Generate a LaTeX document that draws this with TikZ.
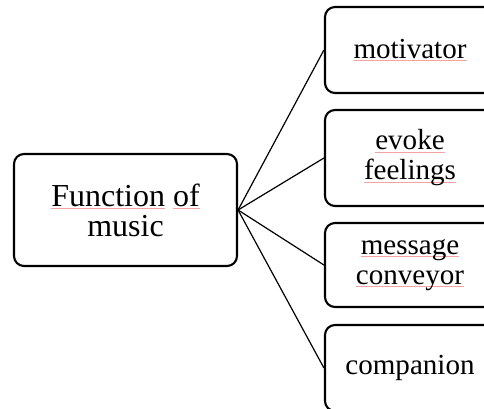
\documentclass[tikz,border=0pt]{standalone}
\usepackage{fontspec}
\setmainfont{Liberation Serif}
\definecolor{spellred}{HTML}{F2A3A3}
% word with a spell-check underline
\newcommand\spellmark[1]{\setbox0\hbox{#1}\rlap{\textcolor{spellred}{\rule[-2pt]{\wd0}{0.6pt}}}\box0\relax}
\tikzset{
  box/.style={draw=black, line width=1.6pt, rounded corners=7.5pt, align=center, inner sep=0pt},
  mainbox/.style={box, minimum width=167.25pt, minimum height=84pt, font=\fontsize{24}{22.5}\selectfont},
  leafbox/.style={box, minimum width=127.5pt, font=\fontsize{21.8}{22.5}\selectfont},
  link/.style={draw=black, line width=0.9pt}
}
\begin{document}
\begin{tikzpicture}[x=0.75pt, y=-0.75pt]
  \useasboundingbox (0,0) rectangle (484,409);
  \clip (0,0) rectangle (484,409);
  \fill[white] (0,0) rectangle (484,409);

  \node[mainbox] (main) at (125.5,210) {\spellmark{Function} \spellmark{of}\\music};

  \node[leafbox, minimum height=64.5pt] (l1) at (410,50)  {\spellmark{motivator}};
  \node[leafbox, minimum height=72pt]   (l2) at (410,158) {\spellmark{evoke}\\\spellmark{feelings}};
  \node[leafbox, minimum height=63pt]   (l3) at (410,265) {\spellmark{message}\\\spellmark{conveyor}};
  \node[leafbox, minimum height=64.5pt] (l4) at (410,368) {companion};

  \foreach \n in {l1,l2,l3,l4}
    \draw[link] (main.east) -- (\n.west);
\end{tikzpicture}
\end{document}
